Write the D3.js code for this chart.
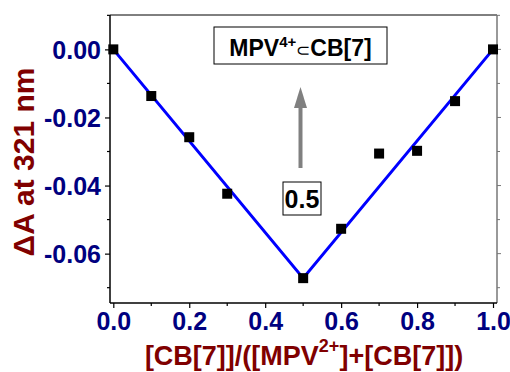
<!DOCTYPE html>
<html>
<head>
<meta charset="utf-8">
<script src="https://cdn.jsdelivr.net/npm/d3@7"></script>
<style>
  html, body { margin: 0; padding: 0; background: #fff; }
  svg { display: block; font-family: "Liberation Sans", Arial, sans-serif; }
</style>
</head>
<body>
<svg id="chart" width="510" height="372"></svg>
<script>
// ---- data ----
const ratio = [0.0, 0.1, 0.2, 0.3, 0.5, 0.6, 0.7, 0.8, 0.9, 1.0];
const deltaA = [0.0, -0.0137, -0.0258, -0.0424, -0.0672, -0.0527, -0.0306, -0.0298, -0.0152, 0.0];
const fitX = [0.0, 0.5, 1.0];
const fitY = [0.0, -0.0672, 0.0];
const xTicks = [0.0, 0.2, 0.4, 0.6, 0.8, 1.0];
const xMinorTicks = [0.1, 0.3, 0.5, 0.7, 0.9];
const yTicks = [0.00, -0.02, -0.04, -0.06];
const yMinorTicks = [0.01, -0.01, -0.03, -0.05, -0.07];
const xTitle = "[CB[7]]/([MPV";
const yTitle = "\u0394A at 321 nm";
const annotation = "0.5";

const svg = d3.select("#chart");
const L = 110, R = 497, T = 15, B = 303;
const x = d3.scaleLinear().domain([-0.0087, 1.0105]).range([L, R]);
const y = d3.scaleLinear().domain([-0.0745, 0.0101]).range([B, T]);

const navy = "#000080", maroon = "#800000";
const FF = "Liberation Sans, Arial, sans-serif";

// frame: top and right
svg.append("line").attr("x1", L).attr("x2", R).attr("y1", T).attr("y2", T)
  .attr("stroke", "#000").attr("stroke-width", 1);
svg.append("line").attr("x1", R).attr("x2", R).attr("y1", T).attr("y2", B)
  .attr("stroke", "#777").attr("stroke-width", 1.5);
const rAll = yTicks.concat(yMinorTicks.filter(v => v < 0.0101));
svg.append("g").selectAll("line").data(rAll).join("line")
  .attr("x1", R).attr("x2", d => R + (yTicks.includes(d) ? 4 : 3))
  .attr("y1", d => y(d)).attr("y2", d => y(d))
  .attr("stroke", "#777").attr("stroke-width", 1);

// bottom axis
const gx = svg.append("g").attr("transform", `translate(0,${B})`)
  .call(d3.axisBottom(x).tickValues(xTicks).tickSize(5).tickFormat(d3.format(".1f")));
gx.select(".domain").attr("stroke-width", 1.5).attr("d", `M${L},0H${R}`);
gx.selectAll(".tick line").attr("stroke-width", 1.2);
gx.selectAll(".tick text").attr("y", 27).attr("dy", 0)
  .attr("font-size", 25).attr("font-weight", "bold").attr("fill", navy)
  .attr("font-family", FF);
gx.append("g").selectAll("line").data(xMinorTicks).join("line")
  .attr("x1", d => x(d)).attr("x2", d => x(d)).attr("y1", 0).attr("y2", 3)
  .attr("stroke", "#000").attr("stroke-width", 1.2);

// left axis
const gy = svg.append("g").attr("transform", `translate(${L},0)`)
  .call(d3.axisLeft(y).tickValues(yTicks).tickSize(5).tickPadding(4).tickFormat(d3.format(".2f")));
gy.select(".domain").attr("stroke-width", 1.5).attr("d", `M0,${T}V${B}`);
gy.selectAll(".tick line").attr("stroke-width", 1.2);
gy.selectAll(".tick text").attr("dy", "0.36em")
  .attr("font-size", 25).attr("font-weight", "bold").attr("fill", navy)
  .attr("font-family", FF)
  .text(d => d3.format(".2f")(d).replace("\u2212", "-"));
gy.append("g").selectAll("line").data(yMinorTicks.filter(v => v < 0.0101)).join("line")
  .attr("x1", 0).attr("x2", -3).attr("y1", d => y(d)).attr("y2", d => y(d))
  .attr("stroke", "#000").attr("stroke-width", 1.2);

// fit line
const fitData = fitX.map((v, i) => [v, fitY[i]]);
svg.append("path").datum(fitData)
  .attr("fill", "none").attr("stroke", "#0000ff").attr("stroke-width", 3)
  .attr("d", d3.line().x(d => x(d[0])).y(d => y(d[1])));

// markers
const pts = ratio.map((v, i) => [v, deltaA[i]]);
const s = 10;
svg.append("g").selectAll("rect").data(pts).join("rect")
  .attr("x", d => x(d[0]) - s / 2).attr("y", d => y(d[1]) - s / 2)
  .attr("width", s).attr("height", s).attr("fill", "#000");

// axis titles
const xt = svg.append("text").attr("x", 304).attr("y", 365).attr("text-anchor", "middle")
  .attr("font-size", 27).attr("font-weight", "bold").attr("fill", maroon);
xt.append("tspan").text(xTitle);
xt.append("tspan").attr("font-size", 18).attr("dy", -13).text("2+");
xt.append("tspan").attr("dy", 13).text("]+[CB[7]])");

svg.append("text")
  .attr("transform", "translate(34,162) rotate(-90)")
  .attr("text-anchor", "middle")
  .attr("font-size", 30).attr("font-weight", "bold").attr("fill", maroon)
  .text(yTitle);

// annotation box: MPV4+ ⊂ CB[7]
svg.append("rect").attr("x", 214).attr("y", 27).attr("width", 173).attr("height", 37)
  .attr("fill", "#fff").attr("stroke", "#000").attr("stroke-width", 1);
const bt = svg.append("text").attr("x", 300.5).attr("y", 56).attr("text-anchor", "middle")
  .attr("font-size", 23).attr("font-weight", "bold").attr("fill", "#000");
bt.append("tspan").text("MPV");
bt.append("tspan").attr("font-size", 15).attr("dy", -9).text("4+");
bt.append("tspan").attr("dy", 9).attr("font-weight", "normal").attr("font-size", 17).text("\u2282");
bt.append("tspan").text("CB[7]");

// arrow
svg.append("line").attr("x1", 300.5).attr("x2", 300.5).attr("y1", 168).attr("y2", 105)
  .attr("stroke", "#808080").attr("stroke-width", 4);
svg.append("path").attr("d", "M300.5,87 L294,108 L307,108 Z").attr("fill", "#808080");

// 0.5 box
svg.append("rect").attr("x", 283).attr("y", 182).attr("width", 38).attr("height", 33)
  .attr("fill", "#fff").attr("stroke", "#000").attr("stroke-width", 1);
svg.append("text").attr("x", 302).attr("y", 208).attr("text-anchor", "middle")
  .attr("font-size", 25).attr("font-weight", "bold").attr("fill", "#000")
  .text(annotation);
</script>
</body>
</html>
